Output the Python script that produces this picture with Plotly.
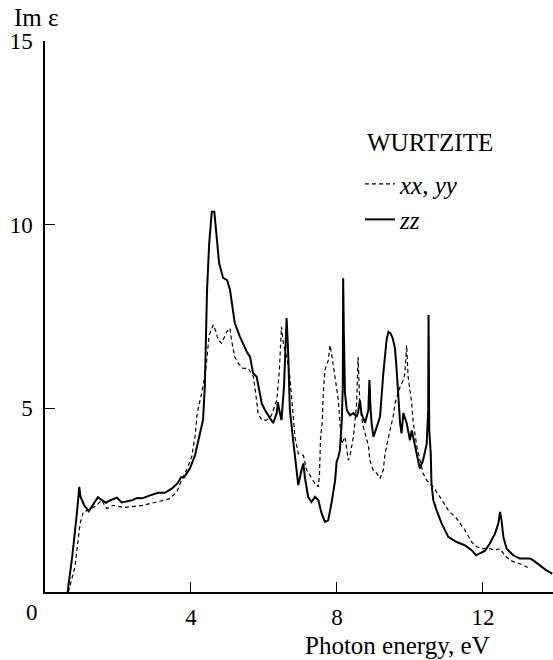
import plotly.graph_objects as go

# Photon energy (eV) and Im(eps) for xx,yy (dashed)
xx_energy = [0.64,0.82,0.96,1.05,1.19,1.42,1.55,1.69,1.87,2.15,2.42,2.69,2.97,3.24,3.42,3.61,3.74,3.88,4.02,4.11,4.17,4.25,4.29,4.4,4.5,4.61,4.68,4.75,4.84,4.98,5.07,5.11,5.2,5.3,5.43,5.57,5.71,5.75,5.8,5.84,5.94,6.07,6.2,6.35,6.42,6.48,6.53,6.62,6.71,6.8,6.85,6.94,7.08,7.17,7.3,7.4,7.49,7.52,7.55,7.6,7.62,7.67,7.76,7.81,7.85,7.95,8.04,8.08,8.13,8.22,8.31,8.36,8.45,8.49,8.54,8.58,8.6,8.63,8.72,8.81,8.86,8.9,8.99,9.09,9.18,9.27,9.32,9.41,9.45,9.54,9.59,9.73,9.82,9.86,9.91,9.95,10.0,10.05,10.09,10.2,10.36,10.46,10.55,10.64,10.82,11.05,11.28,11.51,11.69,11.83,12.0,12.19,12.33,12.47,12.56,12.74,13.01,13.29]
xx_im = [0.0,0.68,1.86,2.18,2.23,2.36,2.5,2.27,2.36,2.3,2.33,2.36,2.43,2.5,2.54,2.72,3.04,3.32,3.68,4.22,4.86,5.22,5.4,6.0,7.0,7.27,7.1,6.86,6.77,7.08,7.18,6.86,6.4,6.22,6.09,6.09,5.86,5.59,5.22,4.86,4.68,4.68,4.8,5.22,6.0,7.22,6.77,6.4,5.86,4.86,4.22,3.77,3.72,3.32,3.09,2.95,2.86,3.18,4.18,4.68,5.31,6.04,6.3,6.72,6.5,5.77,5.22,4.6,4.04,4.22,3.59,3.72,4.22,4.6,5.14,6.4,5.9,5.04,4.5,4.13,4.0,3.59,3.32,3.23,3.09,3.32,3.77,4.22,4.4,4.77,5.13,5.59,5.77,5.95,6.72,5.86,5.5,5.13,4.6,3.9,3.23,3.04,2.95,2.86,2.59,2.23,2.0,1.68,1.36,1.23,1.18,1.18,1.14,1.18,1.05,0.86,0.77,0.64]

# Photon energy (eV) and Im(eps) for zz (solid)
zz_energy = [0.62,0.75,0.88,0.94,0.97,1.08,1.2,1.33,1.45,1.56,1.67,1.8,1.97,2.1,2.27,2.4,2.52,2.66,2.88,3.1,3.29,3.48,3.64,3.73,3.81,3.97,4.11,4.22,4.33,4.38,4.44,4.5,4.57,4.64,4.7,4.77,4.88,4.99,5.07,5.2,5.34,5.53,5.62,5.7,5.8,5.89,5.94,6.03,6.12,6.25,6.35,6.38,6.42,6.48,6.55,6.62,6.66,6.71,6.8,6.9,6.94,7.03,7.08,7.12,7.21,7.3,7.4,7.49,7.58,7.67,7.76,7.85,7.95,7.99,8.04,8.08,8.13,8.16,8.17,8.19,8.22,8.27,8.36,8.45,8.54,8.58,8.63,8.67,8.77,8.86,8.89,8.92,8.95,9.0,9.09,9.18,9.27,9.36,9.41,9.47,9.53,9.59,9.63,9.68,9.73,9.77,9.82,9.91,10.0,10.05,10.09,10.18,10.27,10.36,10.46,10.5,10.51,10.53,10.57,10.59,10.64,10.73,10.87,11.05,11.28,11.51,11.69,11.81,11.92,12.05,12.19,12.33,12.42,12.47,12.51,12.56,12.65,12.83,13.01,13.29,13.38,13.56,13.74,13.9]
zz_im = [0.0,1.0,2.2,2.86,2.6,2.35,2.2,2.4,2.58,2.5,2.43,2.5,2.57,2.44,2.47,2.5,2.56,2.55,2.63,2.7,2.7,2.82,2.97,3.13,3.12,3.36,3.72,4.22,4.68,5.6,8.22,9.5,10.35,10.35,9.77,8.96,8.55,8.49,8.22,7.32,6.95,6.54,6.4,5.96,5.86,5.41,5.13,4.95,4.81,4.6,4.87,5.17,4.95,4.68,5.6,7.46,6.6,4.95,4.13,3.23,2.91,3.32,3.5,3.13,2.59,2.45,2.59,2.5,2.14,1.91,1.95,2.42,3.04,3.54,3.68,3.86,4.6,5.6,8.54,7.0,5.41,4.95,4.81,4.87,4.77,4.9,5.22,4.87,4.6,4.95,5.77,5.0,4.6,4.22,4.5,4.77,5.95,6.86,7.08,7.04,6.9,6.63,6.13,5.22,4.6,4.32,4.87,4.6,4.13,4.4,4.22,3.77,3.36,3.59,4.04,4.95,7.54,4.4,3.78,2.96,2.5,2.23,1.86,1.5,1.36,1.27,1.14,1.0,1.06,1.12,1.32,1.59,1.86,2.18,1.95,1.5,1.18,1.0,0.91,0.91,0.86,0.73,0.59,0.5]

x_ticks = [4, 8, 12]
y_ticks = [5, 10, 15]

FONT = "Liberation Serif, Times New Roman, serif"
FS_TICK = 23
FS_TEXT = 25
FS_LEG = 25

fig = go.Figure()
fig.add_trace(go.Scatter(x=xx_energy, y=xx_im, mode="lines", name="<i>xx</i>, <i>yy</i>",
                         line=dict(color="black", width=1.2, dash="4px,3px")))
fig.add_trace(go.Scatter(x=zz_energy, y=zz_im, mode="lines", name="<i>zz</i>",
                         line=dict(color="black", width=2)))

fig.update_layout(
    width=553, height=660,
    margin=dict(l=45, r=0, t=41, b=68),
    paper_bgcolor="white", plot_bgcolor="white",
    font=dict(family=FONT, size=FS_TICK, color="black"),
    showlegend=True,
    legend=dict(x=0.62, y=0.782, xanchor="left", yanchor="top",
                bgcolor="rgba(0,0,0,0)", font=dict(family=FONT, size=FS_LEG),
                tracegroupgap=0, itemwidth=30),
    xaxis=dict(range=[0, 13.92], tickvals=x_ticks, ticktext=[str(v) for v in x_ticks],
               ticks="inside", ticklen=10, tickwidth=1.2, tickcolor="black",
               showline=True, linecolor="black", linewidth=1.5,
               showgrid=False, zeroline=False, ticklabelstandoff=4),
    yaxis=dict(range=[0, 15], tickvals=y_ticks, ticktext=[str(v) for v in y_ticks],
               ticks="inside", ticklen=10, tickwidth=1.2, tickcolor="black",
               showline=True, linecolor="black", linewidth=1.5,
               showgrid=False, zeroline=False, ticklabelstandoff=6),
    annotations=[
        dict(text="0", x=0, y=0, xref="x", yref="y", xshift=-13, yshift=-20,
             showarrow=False, xanchor="center", yanchor="middle", font=dict(size=FS_TICK)),
        dict(text="Im ε", x=0, y=1, xref="paper", yref="paper", xshift=-33, yshift=24,
             showarrow=False, xanchor="left", yanchor="middle", font=dict(size=FS_TEXT)),
        dict(text="Photon energy, eV", x=0.693, y=0, xref="paper", yref="paper", yshift=-53,
             showarrow=False, xanchor="center", yanchor="middle", font=dict(size=FS_TEXT)),
        dict(text="WURTZITE", x=0.758, y=0.815, xref="paper", yref="paper",
             showarrow=False, xanchor="center", yanchor="middle", font=dict(size=FS_TEXT)),
    ],
)

fig.write_html("out.html")
